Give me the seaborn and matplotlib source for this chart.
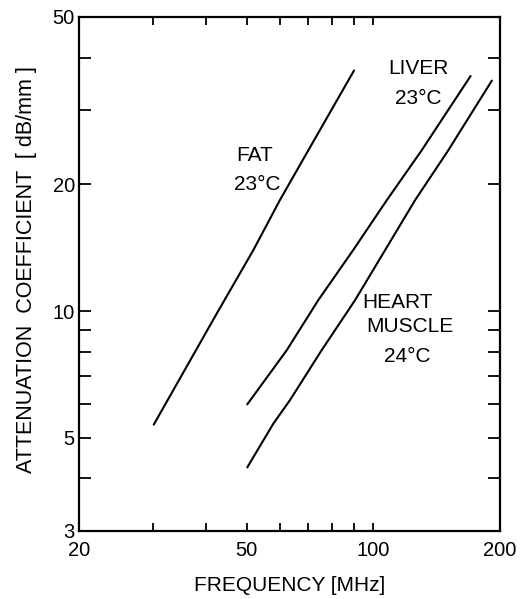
import numpy as np
import pandas as pd
import matplotlib
matplotlib.use("Agg")
import matplotlib.pyplot as plt
import seaborn as sns
from matplotlib.ticker import FixedLocator, FixedFormatter, NullFormatter

# Data (log-log axes)
fat_freq = [30.1, 42.5, 51.9, 60.0, 70.1, 90.0]
fat_att = [5.37, 9.87, 13.96, 18.35, 24.1, 37.3]
liver_freq = [50.2, 62.3, 74.0, 89.6, 107.7, 130.3, 170.3]
liver_att = [6.0, 8.07, 10.61, 13.96, 18.35, 24.1, 36.2]
heart_freq = [50.2, 57.9, 63.4, 75.4, 90.5, 125.7, 150.7, 191.3]
heart_att = [4.25, 5.4, 6.14, 8.07, 10.61, 18.35, 24.1, 35.3]

x_major = [20, 50, 100, 200]
x_minor = [30, 40, 60, 70, 80, 90]
y_major = [3, 5, 10, 20, 50]
y_minor = [4, 6, 7, 8, 9, 30, 40]

labels = [
    ("FAT", 255, 155), ("23°C", 257, 184),
    ("LIVER", 418, 68), ("23°C", 418, 99),
    ("HEART", 398, 303), ("MUSCLE", 410, 327), ("24°C", 407, 357),
]

sns.set_style("ticks")
plt.rcParams["font.family"] = ["Liberation Sans", "DejaVu Sans"]
plt.rcParams["text.color"] = "black"
plt.rcParams["axes.labelcolor"] = "black"
plt.rcParams["xtick.color"] = "black"
plt.rcParams["ytick.color"] = "black"

W, H = 522, 599
fig = plt.figure(figsize=(W / 100, H / 100), dpi=100)
ax = fig.add_axes([79 / W, (H - 531) / H, (500 - 79) / W, (531 - 17) / H])

df = pd.concat([
    pd.DataFrame({"f": fat_freq, "a": fat_att, "tissue": "fat"}),
    pd.DataFrame({"f": liver_freq, "a": liver_att, "tissue": "liver"}),
    pd.DataFrame({"f": heart_freq, "a": heart_att, "tissue": "heart"}),
])
sns.lineplot(data=df, x="f", y="a", units="tissue", estimator=None,
             color="black", lw=1.5, ax=ax, sort=False)

ax.set_xscale("log")
ax.set_yscale("log")
ax.set_xlim(20, 200)
ax.set_ylim(3, 50)

ax.xaxis.set_major_locator(FixedLocator(x_major))
ax.xaxis.set_major_formatter(FixedFormatter([str(v) for v in x_major]))
ax.xaxis.set_minor_locator(FixedLocator(x_minor))
ax.xaxis.set_minor_formatter(NullFormatter())
ax.yaxis.set_major_locator(FixedLocator(y_major))
ax.yaxis.set_major_formatter(FixedFormatter([str(v) for v in y_major]))
ax.yaxis.set_minor_locator(FixedLocator(y_minor))
ax.yaxis.set_minor_formatter(NullFormatter())

ax.tick_params(axis="x", which="both", direction="in", top=True, bottom=True,
               length=6, width=1.3, labelsize=14.5, pad=7, color="black",
               labelcolor="black")
ax.tick_params(axis="y", which="both", direction="in", left=True, right=True,
               length=8.5, width=1.3, labelsize=14.5, pad=3, color="black",
               labelcolor="black")
for s in ax.spines.values():
    s.set_linewidth(1.6)
    s.set_color("black")

ax.set_xlabel("FREQUENCY [MHz]", fontsize=15, labelpad=12, color="black")
ax.set_ylabel("ATTENUATION  COEFFICIENT  [ dB/mm ]", fontsize=15.5,
              color="black")
ax.yaxis.set_label_coords(-0.100, 0.508)
ax.grid(False)

for txt, px, py in labels:
    fig.text(px / W, 1 - py / H, txt, fontsize=15, ha="center", va="center",
             color="black")

fig.savefig("out.png", dpi=100)
